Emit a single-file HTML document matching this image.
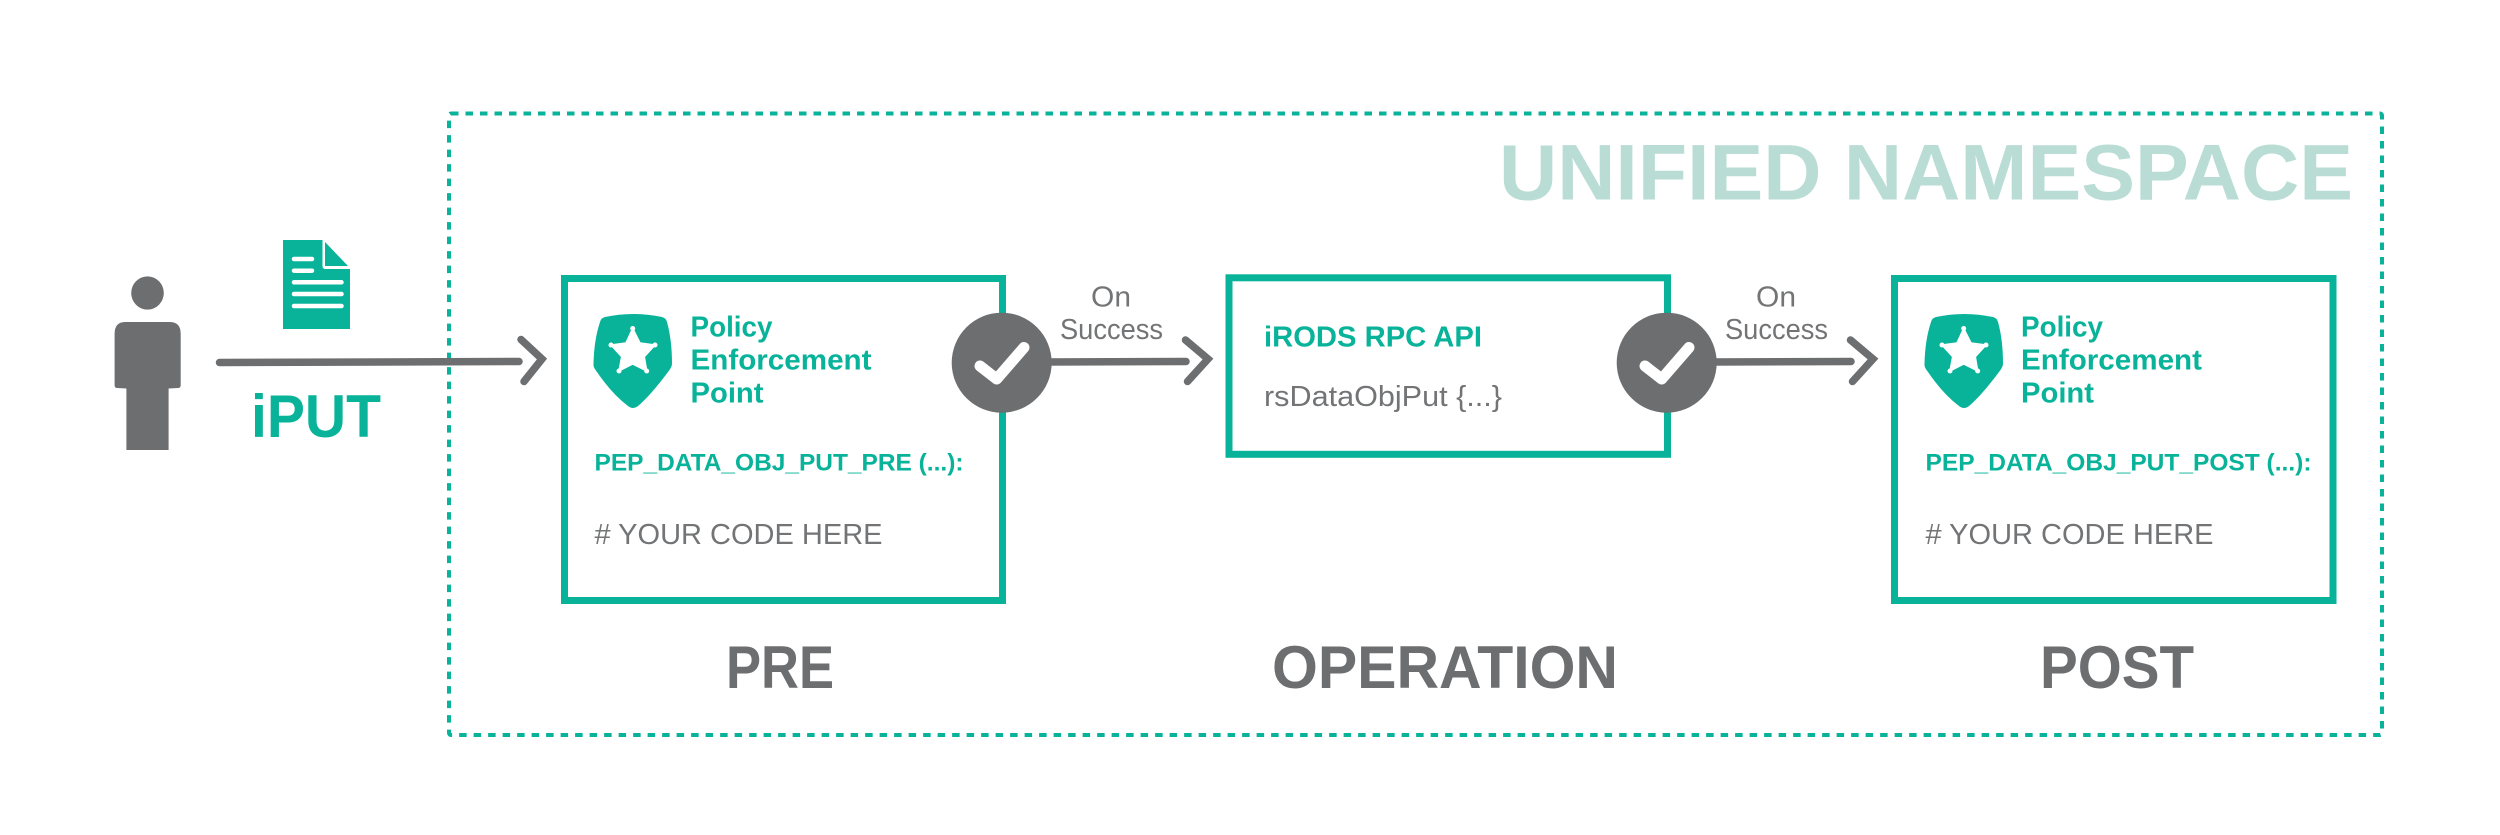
<!DOCTYPE html>
<html>
<head>
<meta charset="utf-8">
<style>
html,body{margin:0;padding:0;background:#fff;width:2500px;height:835px;overflow:hidden}
svg{display:block}
text{font-family:"Liberation Sans",sans-serif}
.b{font-weight:bold}
.t{fill:#08b39a}
.g{fill:#6d6e70}
.l{fill:#737476}
</style>
</head>
<body>
<svg width="2500" height="835" viewBox="0 0 2500 835" xmlns="http://www.w3.org/2000/svg">
<rect width="2500" height="835" fill="#fff"/>

<!-- namespace -->
<rect x="449" y="113.500" width="1933" height="621.500" rx="2" fill="none" stroke="#08b39a" stroke-width="4" stroke-dasharray="7.500 7"/>
<text class="b" x="1499" y="199.500" font-size="79" fill="#b9ddd4" textLength="854" lengthAdjust="spacingAndGlyphs">UNIFIED NAMESPACE</text>

<!-- person -->
<ellipse cx="147.500" cy="293" rx="16.300" ry="16.600" fill="#6d6e70"/>
<path d="M125 322H170Q180.700 322 180.700 334V385Q180.700 388 178 388L168.600 388.500V450H126.400V388.500L117 388Q114.600 388 114.600 385V334Q114.600 322 125 322Z" fill="#6d6e70"/>

<!-- document -->
<path d="M283 240H322.500V266Q322.500 269 325.500 269H350V329H283Z" fill="#08b39a"/>
<path d="M325 242L348 266H325Z" fill="#08b39a"/>
<g stroke="#fff" stroke-width="4.500" stroke-linecap="round">
<line x1="294" y1="259" x2="312" y2="259"/>
<line x1="294" y1="270.700" x2="312" y2="270.700"/>
<line x1="294" y1="282.300" x2="341.500" y2="282.300"/>
<line x1="294" y1="294" x2="341.500" y2="294"/>
<line x1="294" y1="306" x2="341.500" y2="306"/>
</g>
<text class="b t" x="251" y="437" font-size="60" textLength="130" lengthAdjust="spacingAndGlyphs">iPUT</text>

<!-- arrow 1 -->
<g fill="none" stroke="#6d6e70" stroke-width="7.500" stroke-linecap="round" stroke-linejoin="miter">
<line x1="219.500" y1="362.500" x2="519" y2="361.500"/>
<polyline points="521,339.500 542,359 524,381.500"/>
</g>

<!-- box 1 -->
<rect x="564.500" y="278.500" width="438" height="322" fill="#fff" stroke="#08b39a" stroke-width="7"/>
<path d="M605 317Q633 311 662 317Q666 318 667 322Q672 340 672 364Q672 367 668 372Q650 396 638 406Q633 410 628 406Q612 394 597 372Q593 367 593.500 364Q594 340 600 322Q601 318 605 317Z" fill="#08b39a"/>
<path d="M632.700 328.500L640 343L655 345L644.300 356.700L646.700 371L632.700 364L619 371L621.700 356.700L611 345L626 343Z" fill="#fff" stroke="#fff" stroke-width="1.500" stroke-linejoin="round"/>
<g fill="#fff"><circle cx="632.700" cy="328.500" r="2.500"/><circle cx="655" cy="345" r="2.500"/><circle cx="646.700" cy="371" r="2.500"/><circle cx="619" cy="371" r="2.500"/><circle cx="611" cy="345" r="2.500"/></g>
<text class="b t" x="690.500" y="336.700" font-size="29" textLength="82" lengthAdjust="spacingAndGlyphs">Policy</text>
<text class="b t" x="690.500" y="369.500" font-size="29" textLength="181" lengthAdjust="spacingAndGlyphs">Enforcement</text>
<text class="b t" x="690.500" y="402.300" font-size="29" textLength="73" lengthAdjust="spacingAndGlyphs">Point</text>
<text class="b t" x="594.500" y="470.700" font-size="24" textLength="369" lengthAdjust="spacingAndGlyphs">PEP_DATA_OBJ_PUT_PRE (...):</text>
<text class="l" x="594.500" y="544" font-size="29" textLength="288" lengthAdjust="spacingAndGlyphs"># YOUR CODE HERE</text>

<!-- arrow 2 -->
<g fill="none" stroke="#6d6e70" stroke-width="7.500" stroke-linecap="round">
<line x1="1045" y1="362" x2="1186" y2="361.500"/>
<polyline points="1185.500,340 1208,359 1187.500,381.500"/>
</g>
<circle cx="1001.700" cy="362.700" r="50" fill="#6d6e70"/>
<polyline points="980,366 996.700,379 1024,347.500" fill="none" stroke="#fff" stroke-width="11" stroke-linecap="round" stroke-linejoin="round"/>
<text class="l" x="1091" y="306.700" font-size="29" textLength="40" lengthAdjust="spacingAndGlyphs">On</text>
<text class="l" x="1060" y="339" font-size="29" textLength="103" lengthAdjust="spacingAndGlyphs">Success</text>

<!-- box 2 -->
<rect x="1229" y="277.800" width="438.500" height="176.500" fill="#fff" stroke="#08b39a" stroke-width="7"/>
<text class="b t" x="1264" y="346.700" font-size="29" textLength="218" lengthAdjust="spacingAndGlyphs">iRODS RPC API</text>
<text class="l" x="1264" y="406" font-size="29" textLength="238" lengthAdjust="spacingAndGlyphs">rsDataObjPut {...}</text>

<!-- arrow 3 -->
<g fill="none" stroke="#6d6e70" stroke-width="7.500" stroke-linecap="round">
<line x1="1710" y1="362" x2="1851" y2="361.500"/>
<polyline points="1850.500,340 1873,359 1852.500,381.500"/>
</g>
<circle cx="1666.700" cy="362.700" r="50" fill="#6d6e70"/>
<polyline points="1645,366 1661.700,379 1689,347.500" fill="none" stroke="#fff" stroke-width="11" stroke-linecap="round" stroke-linejoin="round"/>
<text class="l" x="1756" y="306.700" font-size="29" textLength="40" lengthAdjust="spacingAndGlyphs">On</text>
<text class="l" x="1725" y="339" font-size="29" textLength="103" lengthAdjust="spacingAndGlyphs">Success</text>

<!-- box 3 -->
<rect x="1894.500" y="278.500" width="438.500" height="322" fill="#fff" stroke="#08b39a" stroke-width="7"/>
<g transform="translate(1331 0)">
<path d="M605 317Q633 311 662 317Q666 318 667 322Q672 340 672 364Q672 367 668 372Q650 396 638 406Q633 410 628 406Q612 394 597 372Q593 367 593.500 364Q594 340 600 322Q601 318 605 317Z" fill="#08b39a"/>
<path d="M632.700 328.500L640 343L655 345L644.300 356.700L646.700 371L632.700 364L619 371L621.700 356.700L611 345L626 343Z" fill="#fff" stroke="#fff" stroke-width="1.500" stroke-linejoin="round"/>
<g fill="#fff"><circle cx="632.700" cy="328.500" r="2.500"/><circle cx="655" cy="345" r="2.500"/><circle cx="646.700" cy="371" r="2.500"/><circle cx="619" cy="371" r="2.500"/><circle cx="611" cy="345" r="2.500"/></g>
</g>
<text class="b t" x="2021" y="336.700" font-size="29" textLength="82" lengthAdjust="spacingAndGlyphs">Policy</text>
<text class="b t" x="2021" y="369.500" font-size="29" textLength="181" lengthAdjust="spacingAndGlyphs">Enforcement</text>
<text class="b t" x="2021" y="402.300" font-size="29" textLength="73" lengthAdjust="spacingAndGlyphs">Point</text>
<text class="b t" x="1925.500" y="470.700" font-size="24" textLength="386" lengthAdjust="spacingAndGlyphs">PEP_DATA_OBJ_PUT_POST (...):</text>
<text class="l" x="1925.500" y="544" font-size="29" textLength="288" lengthAdjust="spacingAndGlyphs"># YOUR CODE HERE</text>

<!-- stage labels -->
<text class="b g" x="726" y="688" font-size="60" textLength="108" lengthAdjust="spacingAndGlyphs">PRE</text>
<text class="b g" x="1272" y="688" font-size="60" textLength="346" lengthAdjust="spacingAndGlyphs">OPERATION</text>
<text class="b g" x="2040" y="688" font-size="60" textLength="154" lengthAdjust="spacingAndGlyphs">POST</text>
</svg>
</body>
</html>
